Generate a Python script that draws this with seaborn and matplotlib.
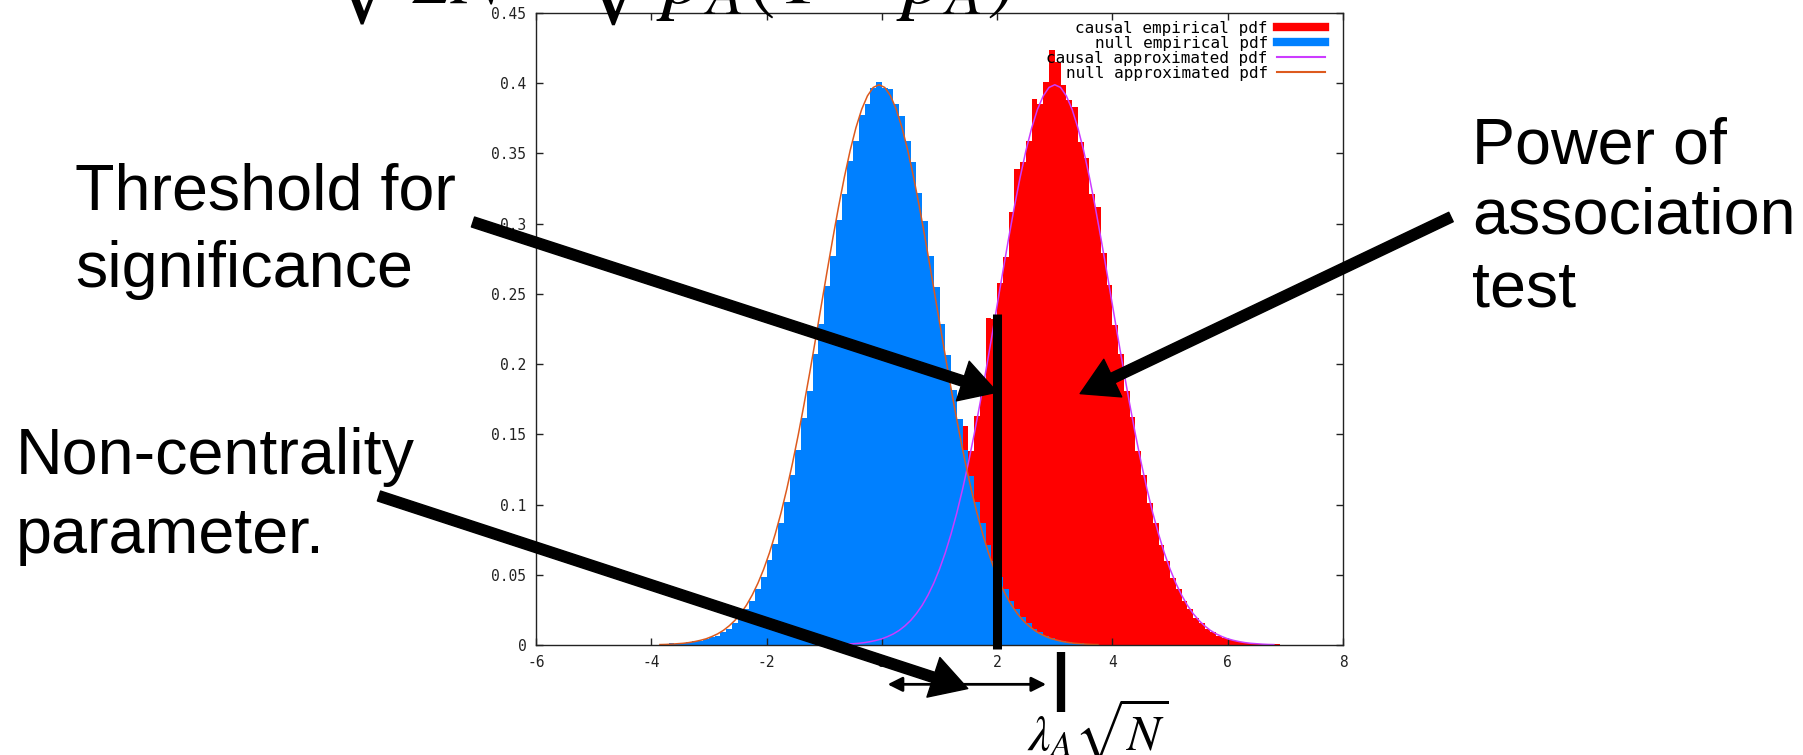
import numpy as np
import pandas as pd
import matplotlib
matplotlib.use("Agg")
import matplotlib.pyplot as plt
import seaborn as sns
from matplotlib.lines import Line2D

# -----------------------------------------------------------------------------
# empirical pdfs (bin width 0.1)
null_start = -3.7
null_density = [
    0.0012, 0.0010, 0.0014, 0.0018, 0.0025, 0.0030, 0.0041,
    0.0054, 0.0066, 0.0094, 0.0116, 0.0158, 0.0194, 0.0256, 0.0312, 0.0401, 0.0482,
    0.0604, 0.0716, 0.0871, 0.1015, 0.1212, 0.1386, 0.1618, 0.1810, 0.2074, 0.2285,
    0.2556, 0.2768, 0.3029, 0.3214, 0.3447, 0.3590, 0.3771, 0.3852, 0.3968, 0.4012,
    0.3969, 0.3958, 0.3850, 0.3766, 0.3592, 0.3441, 0.3218, 0.3022, 0.2771, 0.2552,
    0.2289, 0.2068, 0.1818, 0.1612, 0.1388, 0.1206, 0.1019, 0.0868, 0.0715, 0.0601,
    0.0484, 0.0399, 0.0314, 0.0255, 0.0196, 0.0157, 0.0117, 0.0093, 0.0067, 0.0052,
    0.0039, 0.0027, 0.0021, 0.0014, 0.0011, 0.0006, 0.0004,
]
causal_start = -0.4
causal_density = [
    0.0014, 0.0021, 0.0027, 0.0040,
    0.0049, 0.0072, 0.0088, 0.0122, 0.0150, 0.0205, 0.0246, 0.0324, 0.0389, 0.0502,
    0.0590, 0.0735, 0.0852, 0.1045, 0.1560, 0.1380, 0.1630, 0.1850, 0.2330, 0.2320,
    0.2580, 0.2760, 0.3080, 0.3390, 0.3440, 0.3590, 0.3890, 0.3850, 0.4010, 0.4240,
    0.4150, 0.3990, 0.3880, 0.3830, 0.3580, 0.3470, 0.3210, 0.3120, 0.2790, 0.2560,
    0.2280, 0.2070, 0.1810, 0.1620, 0.1380, 0.1210, 0.1010, 0.0870, 0.0710, 0.0600,
    0.0480, 0.0400, 0.0310, 0.0255, 0.0195, 0.0158, 0.0115, 0.0094, 0.0066, 0.0053,
    0.0036, 0.0029, 0.0019, 0.0016, 0.0010, 0.0008, 0.0006, 0.0005, 0.0004,
]
bin_width = 0.1

# approximated pdf shape, sampled every 0.1 from -3.8 to 3.8 around the mean
approx_pdf = [
    0.0003, 0.0004, 0.0006, 0.0009, 0.0012, 0.0017, 0.0024, 0.0033, 0.0044, 0.0060,
    0.0079, 0.0104, 0.0136, 0.0175, 0.0224, 0.0283, 0.0355, 0.0440, 0.0540, 0.0656,
    0.0790, 0.0940, 0.1109, 0.1295, 0.1497, 0.1714, 0.1942, 0.2179, 0.2420, 0.2661,
    0.2897, 0.3123, 0.3332, 0.3521, 0.3683, 0.3814, 0.3910, 0.3970, 0.3989,
    0.3970, 0.3910, 0.3814, 0.3683, 0.3521, 0.3332, 0.3123, 0.2897, 0.2661, 0.2420,
    0.2179, 0.1942, 0.1714, 0.1497, 0.1295, 0.1109, 0.0940, 0.0790, 0.0656, 0.0540,
    0.0440, 0.0355, 0.0283, 0.0224, 0.0175, 0.0136, 0.0104, 0.0079, 0.0060, 0.0044,
    0.0033, 0.0024, 0.0017, 0.0012, 0.0009, 0.0006, 0.0004, 0.0003,
]
null_mean = -0.05
causal_mean = 3.0

threshold = 2.0
ncp = 3.1   # lambda_A * sqrt(N)

x_ticks = [-6, -4, -2, 0, 2, 4, 6, 8]
y_ticks = [0, 0.05, 0.1, 0.15, 0.2, 0.25, 0.3, 0.35, 0.4, 0.45]
y_tick_labels = ["0", "0.05", "0.1", "0.15", "0.2", "0.25", "0.3", "0.35", "0.4", "0.45"]
legend_labels = ["causal empirical pdf", "null empirical pdf",
                 "causal approximated pdf", "null approximated pdf"]

RED = "#ff0000"
BLUE = "#0080ff"
PURPLE = "#cc3cff"
ORANGE = "#dd5a1e"

# -----------------------------------------------------------------------------
W, H = 1803, 755
plt.rcParams["axes.unicode_minus"] = False
plt.rcParams["mathtext.fontset"] = "stix"

fig = plt.figure(figsize=(W / 100, H / 100), dpi=100)
ax = fig.add_axes([536 / W, 1 - 645 / H, (1343 - 536) / W, (645 - 13) / H])

null_df = pd.DataFrame({
    "x": null_start + bin_width * (np.arange(len(null_density)) + 0.5),
    "w": null_density})
causal_df = pd.DataFrame({
    "x": causal_start + bin_width * (np.arange(len(causal_density)) + 0.5),
    "w": causal_density})
curve_df = pd.DataFrame({"d": np.linspace(-3.8, 3.8, len(approx_pdf)), "pdf": approx_pdf})

sns.histplot(data=causal_df, x="x", weights="w", binwidth=bin_width,
             binrange=(causal_start, causal_start + bin_width * len(causal_density)),
             element="step", fill=True, color=RED, alpha=1, linewidth=0, ax=ax)
sns.histplot(data=null_df, x="x", weights="w", binwidth=bin_width,
             binrange=(null_start, null_start + bin_width * len(null_density)),
             element="step", fill=True, color=BLUE, alpha=1, linewidth=0, ax=ax)
sns.lineplot(x=causal_mean + curve_df["d"], y=curve_df["pdf"], color=PURPLE, lw=1.1, ax=ax)
sns.lineplot(x=null_mean + curve_df["d"], y=curve_df["pdf"], color=ORANGE, lw=1.1, ax=ax)

ax.set_xlim(-6, 8)
ax.set_ylim(0, 0.45)
ax.set_xticks(x_ticks)
ax.set_xticklabels([str(t) for t in x_ticks])
ax.set_yticks(y_ticks)
ax.set_yticklabels(y_tick_labels)
ax.set_xlabel("")
ax.set_ylabel("")
ax.tick_params(direction="in", length=5, width=1, top=True, right=True,
               labelsize=10.5, pad=7, colors="#222222")
for lbl in ax.get_xticklabels() + ax.get_yticklabels():
    lbl.set_family("DejaVu Sans Mono")
for sp in ax.spines.values():
    sp.set_linewidth(1.0)
    sp.set_color("#222222")

handles = [Line2D([], [], color=RED, lw=6), Line2D([], [], color=BLUE, lw=6),
           Line2D([], [], color=PURPLE, lw=1.5), Line2D([], [], color=ORANGE, lw=1.5)]
ax.legend(handles, legend_labels, loc="upper right", bbox_to_anchor=(0.988, 1.0),
          frameon=False, markerfirst=False,
          prop={"family": "DejaVu Sans Mono", "size": 11.5}, handlelength=3.0,
          handletextpad=0.6, labelspacing=0.0, borderaxespad=0.2, borderpad=0.3)

# threshold and non-centrality markers
ax.plot([threshold, threshold], [-0.003, 0.236], color="black", lw=6.5,
        solid_capstyle="butt", clip_on=False, zorder=5)
ax.plot([ncp, ncp], [-0.005, -0.048], color="black", lw=6,
        solid_capstyle="butt", clip_on=False, zorder=5)
ax.annotate("", xy=(0.1, -0.028), xytext=(2.85, -0.028),
            arrowprops=dict(arrowstyle="<|-|>", lw=2, color="black", mutation_scale=22,
                            shrinkA=0, shrinkB=0), annotation_clip=False)

# big callout arrows
big = dict(width=7.5, headwidth=30, headlength=26, color="black", shrink=0)
ax.annotate("", xy=(threshold, 0.180), xytext=(473, H - 222), textcoords="figure pixels",
            arrowprops=big, annotation_clip=False)
ax.annotate("", xy=(3.44, 0.179), xytext=(1451, H - 217), textcoords="figure pixels",
            arrowprops=big, annotation_clip=False)
ax.annotate("", xy=(1.49, -0.031), xytext=(379, H - 496), textcoords="figure pixels",
            arrowprops=big, annotation_clip=False)

# slide text
label_font = dict(family="Liberation Sans", fontsize=46.5, color="black")
for s, x, y in [("Threshold for", 75, 209), ("significance", 75, 287),
                ("Power of", 1472, 163), ("association", 1472, 233), ("test", 1472, 307),
                ("Non-centrality", 16, 474), ("parameter.", 16, 553)]:
    fig.text(x / W, 1 - y / H, s, ha="left", va="baseline", **label_font)

# formula cut off by the top edge of the slide
fig.text(322 / W, 1 - 2 / H, r"$\sqrt{2N}$", fontsize=60, va="baseline")
fig.text(572 / W, 1 - 3 / H, r"$\sqrt{p_A(1-p_A)}$", fontsize=62, va="baseline")
fig.text(1027 / W, 1 - 750 / H, r"$\lambda_A\sqrt{N}$", fontsize=36, va="baseline")

fig.savefig("out.png", dpi=100)
